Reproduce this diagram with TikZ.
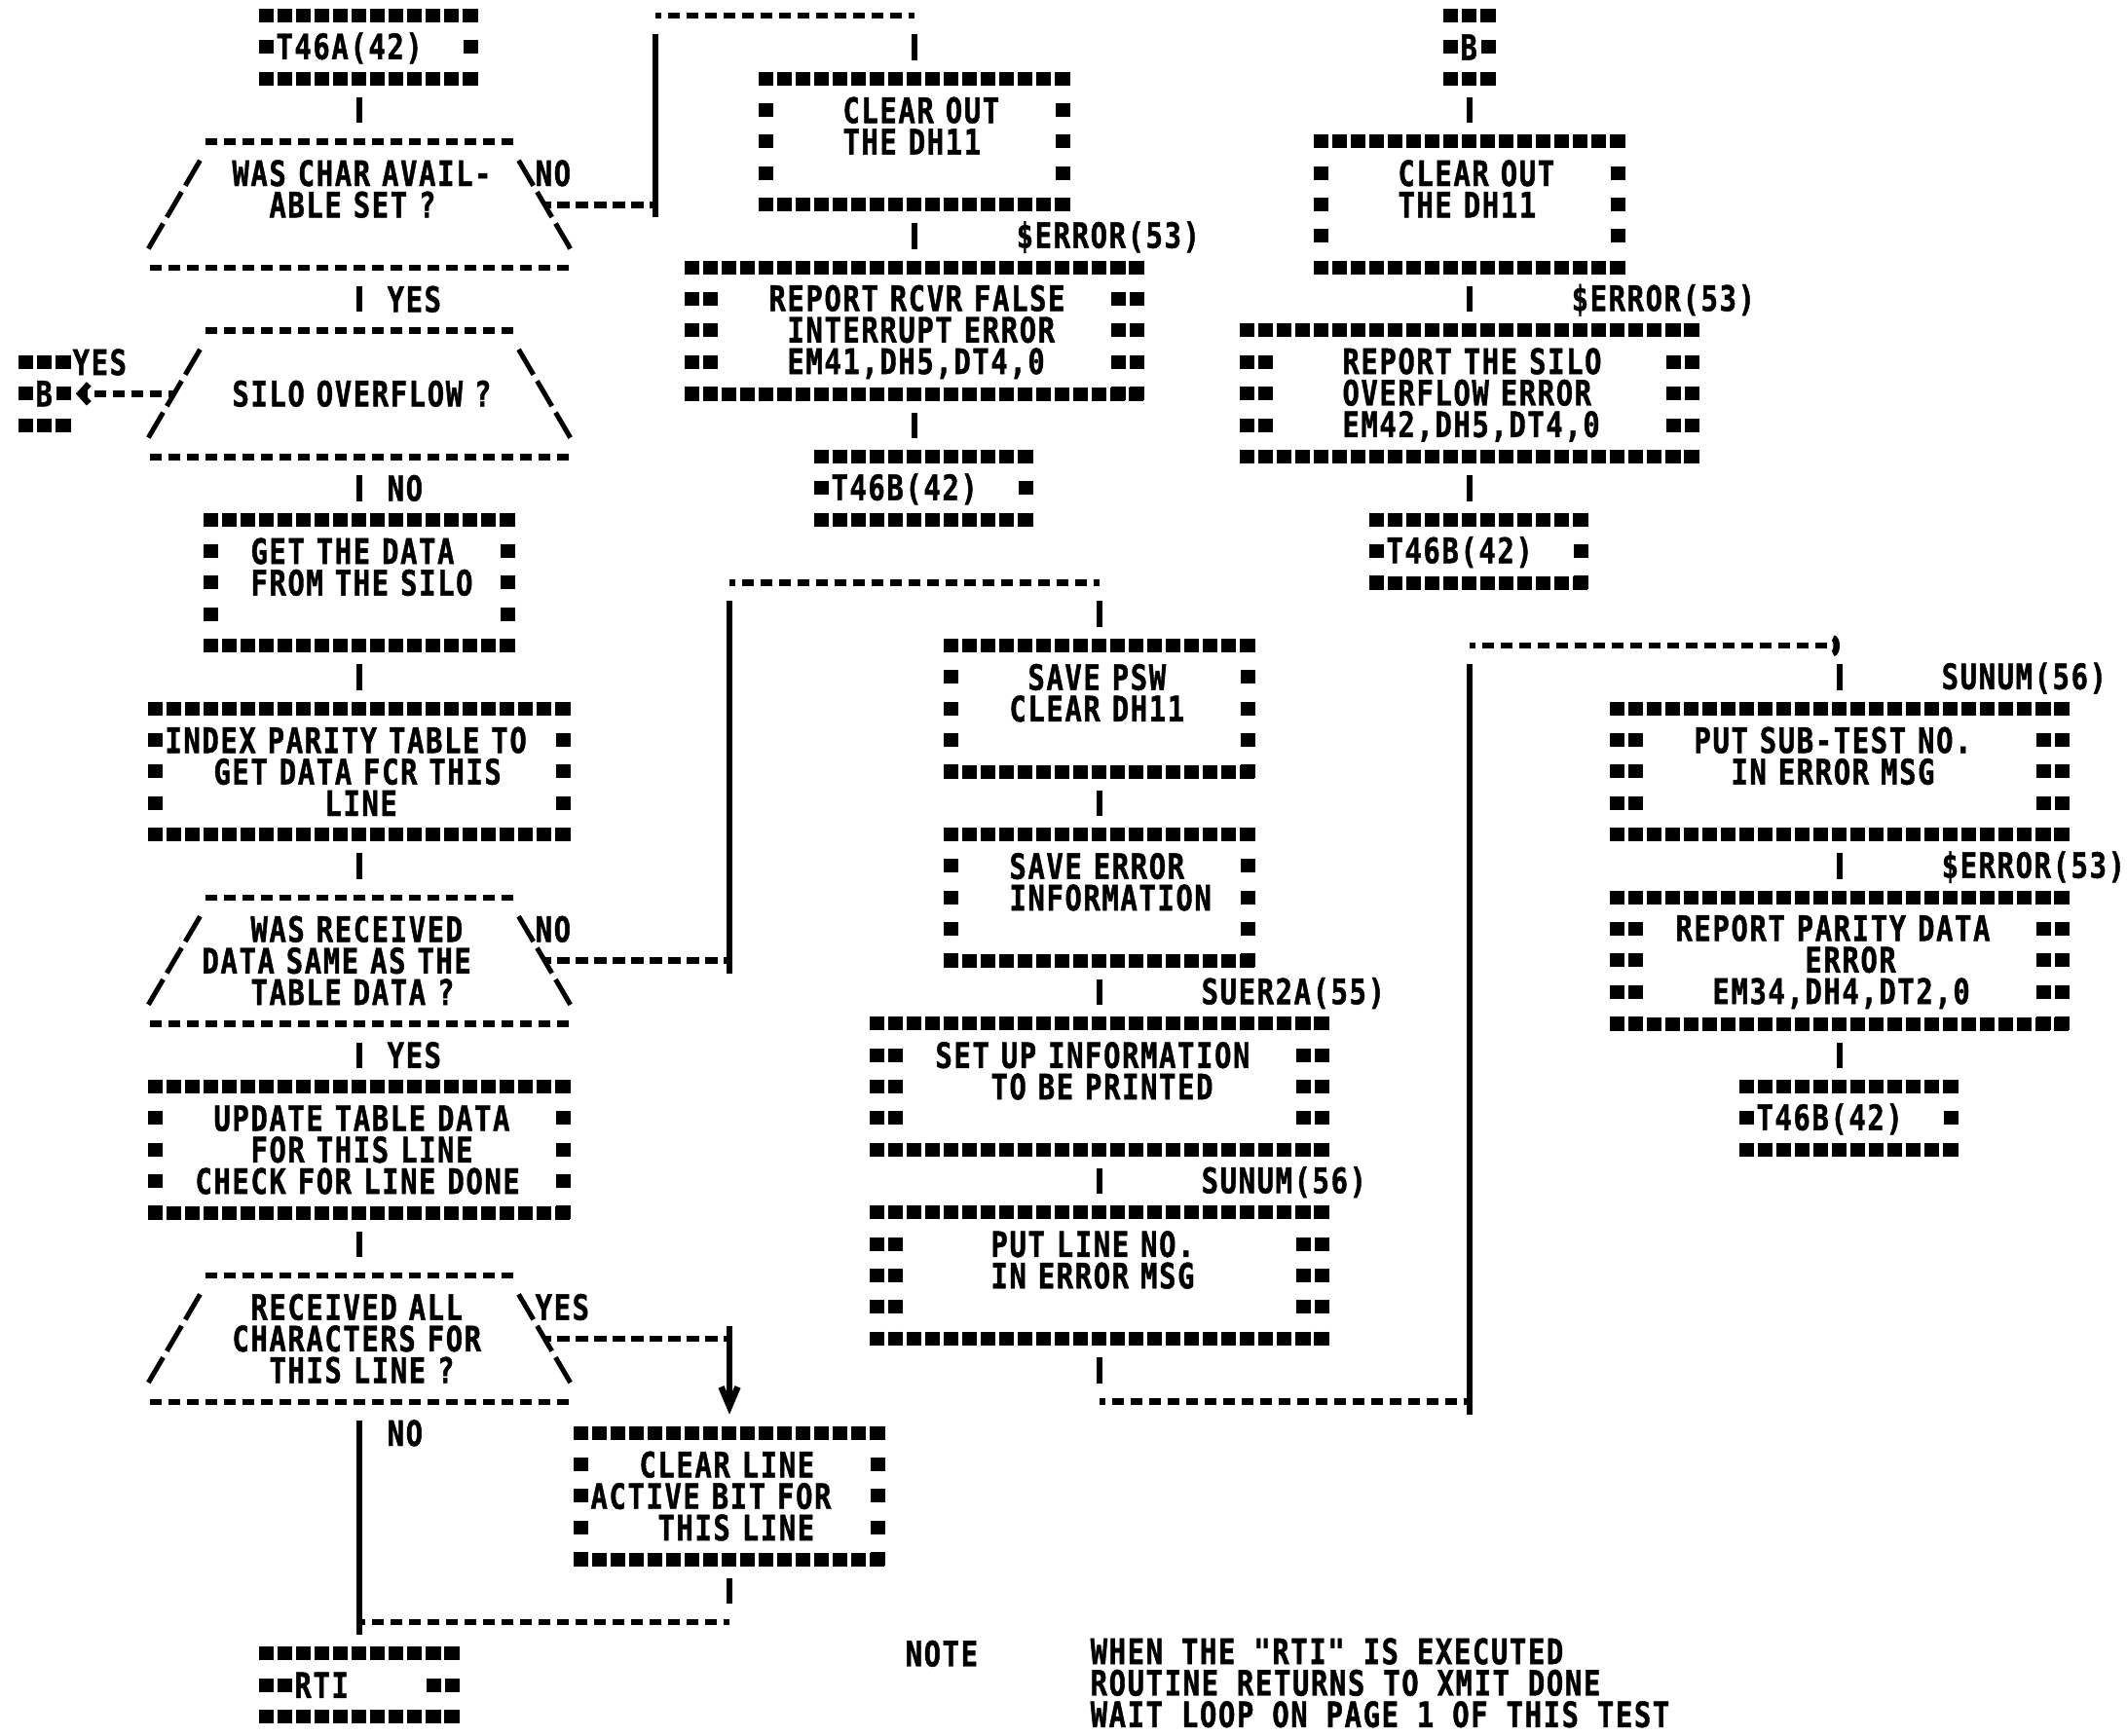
\documentclass[tikz,border=0pt]{standalone}
\usepackage{fontspec}
\usetikzlibrary{arrows.meta}
\newfontfamily\lp{DejaVu Sans Mono}[FakeStretch=0.8,LetterSpace=4.6,FakeBold=1.2]
\newcommand\lpf{\lp\bfseries\fontsize{36pt}{32.35pt}\selectfont\lineskiplimit=-100pt\relax}
\newcommand\rs{\rule[-3.1pt]{0pt}{32.35pt}}
\newlength\chw
\setlength\chw{19pt}
\newcommand\sk[1]{\hspace*{#1\chw}}
\begin{document}
\begin{tikzpicture}[x=19pt,y=-32.35pt,
    txt/.style={inner sep=0pt,align=left,font=\lpf,execute at begin node=\rs,execute at end node=\rs},
    lbl/.style={inner sep=0pt,anchor=west,font=\lpf,execute at begin node=\rs},
    tag/.style={txt,minimum width=209pt,minimum height=64.7pt,text width=190pt},
    conn/.style={txt,minimum width=38pt,minimum height=64.7pt,text width=19pt},
    proc/.style={txt,minimum width=304pt,minimum height=129.4pt,text width=285pt},
    wide/.style={txt,minimum width=418pt,minimum height=129.4pt,text width=399pt},
    err/.style={txt,minimum width=456pt,minimum height=129.4pt,text width=399pt},
    dec/.style={txt,minimum width=456pt,minimum height=129.4pt,text width=323pt},
    hstar/.style={line width=14pt,dash pattern=on 15pt off 4pt},
    vstar/.style={line width=15pt,dash pattern=on 14pt off 18.35pt},
    dashrow/.style={line width=6.5pt,dash pattern=on 12.6pt off 6.4pt},
    hl/.style={dashrow,dash phase=6.3pt},
    vl/.style={line width=6.5pt},
    gapped/.style={shorten <=19pt,shorten >=19pt},
    slash/.style={line width=5pt,dash pattern=on 30pt off 7.52pt,shorten <=22.5pt,shorten >=22.5pt}]
\useasboundingbox (-1.421,-0.5) rectangle (113.526,54.585);

% left column
\node[tag] (t46a) at (18.5,1) {T46A(42)};
\node[dec] (dec1) at (18,6) {\sk1 WAS CHAR AVAIL-\\\sk3 ABLE SET ?\\};
\node[dec] (dec2) at (18,12) {\\\sk1 SILO OVERFLOW ?\\};
\node[conn] (bl) at (1,12) {B};
\node[proc] (get) at (18,18) {\sk1 GET THE DATA\\\sk1 FROM THE SILO\\};
\node[wide] (index) at (18,24) {INDEX PARITY TABLE TO\\\sk2 GET DATA FCR THIS\\\sk8 LINE};
\node[dec] (dec3) at (18,30) {\sk2 WAS RECEIVED\\DATA SAME AS THE\\\sk2 TABLE DATA ?};
\node[wide] (update) at (18,36) {\sk2 UPDATE TABLE DATA\\\sk4 FOR THIS LINE\\\sk1 CHECK FOR LINE DONE};
\node[dec] (dec4) at (18,42) {\sk2 RECEIVED ALL\\\sk1 CHARACTERS FOR\\\sk3 THIS LINE ?};
\node[proc] (clrline) at (38,47) {\sk2 CLEAR LINE\\ACTIVE BIT FOR\\\sk3 THIS LINE};
\node[txt,minimum width=190pt,minimum height=64.7pt,text width=133pt] (rti) at (18,53) {RTI};

% false interrupt
\node[proc] (clr1) at (48,4) {\sk3 CLEAR OUT\\\sk3 THE DH11\\};
\node[err] (rcvr) at (48,10) {\sk2 REPORT RCVR FALSE\\\sk3 INTERRUPT ERROR\\\sk3 EM41,DH5,DT4,0};
\node[tag] (t46b1) at (48.5,15) {T46B(42)};

% silo overflow
\node[conn] (br) at (78,1) {B};
\node[proc] (clr2) at (78,6) {\sk3 CLEAR OUT\\\sk3 THE DH11\\};
\node[err] (silo) at (78,12) {\sk3 REPORT THE SILO\\\sk3 OVERFLOW ERROR\\\sk3 EM42,DH5,DT4,0};
\node[tag] (t46b2) at (78.5,17) {T46B(42)};

% parity error
\node[proc] (psw) at (58,22) {\sk3 SAVE PSW\\\sk2 CLEAR DH11\\};
\node[proc] (saverr) at (58,28) {\sk2 SAVE ERROR\\\sk2 INFORMATION\\};
\node[err] (setup) at (58,34) {\sk1 SET UP INFORMATION\\\sk4 TO BE PRINTED\\};
\node[err] (putline) at (58,40) {\sk4 PUT LINE NO.\\\sk4 IN ERROR MSG\\};
\node[err] (subtest) at (98,24) {\sk2 PUT SUB-TEST NO.\\\sk4 IN ERROR MSG\\};
\node[err] (parity) at (98,30) {\sk1 REPORT PARITY DATA\\\sk8 ERROR\\\sk3 EM34,DH4,DT2,0};
\node[tag] (t46b3) at (98.5,35) {T46B(42)};

% asterisk borders
\foreach \b in {t46a,bl,get,index,update,clrline,rti,clr1,rcvr,t46b1,br,clr2,silo,t46b2,psw,saverr,setup,putline,subtest,parity,t46b3}{
    \draw[hstar] ([xshift=-7.5pt]\b.north west) -- ([xshift=7.5pt]\b.north east);
    \draw[hstar] ([xshift=-7.5pt]\b.south west) -- ([xshift=7.5pt]\b.south east);
    \draw[vstar] ([yshift=7pt]\b.north west) -- ([yshift=-7pt]\b.south west);
    \draw[vstar] ([yshift=7pt]\b.north east) -- ([yshift=-7pt]\b.south east);
}
\foreach \b in {rti,rcvr,silo,setup,putline,subtest,parity}{
    \draw[vstar] ([xshift=19pt,yshift=7pt]\b.north west) -- ([xshift=19pt,yshift=-7pt]\b.south west);
    \draw[vstar] ([xshift=-19pt,yshift=7pt]\b.north east) -- ([xshift=-19pt,yshift=-7pt]\b.south east);
}
\foreach \d in {dec1,dec2,dec3,dec4}{
    \draw[dashrow] ([xshift=69.7pt]\d.north west) -- ([xshift=-69.7pt]\d.north east);
    \draw[dashrow] ([xshift=12.7pt]\d.south west) -- ([xshift=-12.7pt]\d.south east);
    \draw[slash] ([xshift=76pt]\d.north west) -- (\d.south west);
    \draw[slash] ([xshift=-76pt]\d.north east) -- (\d.south east);
}

% main flow
\draw[vl,gapped] (dec1.north |- t46a.south) -- (dec1.north);
\draw[vl,gapped] (dec1.south) -- (dec2.north);
\draw[vl,gapped] (dec2.south) -- (get.north);
\draw[vl,gapped] (get.south) -- (index.north);
\draw[vl,gapped] (index.south) -- (dec3.north);
\draw[vl,gapped] (dec3.south) -- (update.north);
\draw[vl,gapped] (update.south) -- (dec4.north);
\draw[vl,gapped] (dec4.south) -- (rti.north);
\draw[hl,-{Straight Barb[length=9pt,width=20pt]},shorten >=12.7pt] ([xshift=38pt]dec2.west) -- (bl.east);

% char avail not set
\coordinate (n1a) at (34,6);
\coordinate (n1b) at (34,0);
\coordinate (n1c) at (48,0);
\draw[hl] ([xshift=-38pt]dec1.east) -- (n1a);
\draw[vl,shorten <=-13pt,shorten >=19pt] (n1a) -- (n1b);
\draw[hl] (n1b) -- (n1c);
\draw[vl,gapped] (n1c) -- (clr1.north);
\draw[vl,gapped] (clr1.south) -- (rcvr.north);
\draw[vl,gapped] (rcvr.south) -- (rcvr.south |- t46b1.north);

\draw[vl,gapped] (br.south) -- (clr2.north);
\draw[vl,gapped] (clr2.south) -- (silo.north);
\draw[vl,gapped] (silo.south) -- (silo.south |- t46b2.north);

% data not same
\coordinate (n3a) at (38,30);
\coordinate (n3b) at (38,18);
\coordinate (n3c) at (58,18);
\draw[hl] ([xshift=-38pt]dec3.east) -- (n3a);
\draw[vl,shorten <=-13pt,shorten >=19pt] (n3a) -- (n3b);
\draw[hl] (n3b) -- (n3c);
\draw[vl,gapped] (n3c) -- (psw.north);
\draw[vl,gapped] (psw.south) -- (saverr.north);
\draw[vl,gapped] (saverr.south) -- (setup.north);
\draw[vl,gapped] (setup.south) -- (putline.north);
\coordinate (p1) at (58,44);
\coordinate (p2) at (78,44);
\coordinate (p3) at (78,20);
\coordinate (p4) at (98,20);
\draw[vl,gapped] (putline.south) -- (p1);
\draw[hl] (p1) -- (p2);
\draw[vl,shorten <=-13pt,shorten >=19pt] (p2) -- (p3);
\draw[hl,-{Arc Barb[length=7pt,width=22pt]}] (p3) -- (p4);
\draw[vl,gapped] (p4) -- (subtest.north);
\draw[vl,gapped] (subtest.south) -- (parity.north);
\draw[vl,gapped] (parity.south) -- (parity.south |- t46b3.north);

% line done
\coordinate (y1) at (38,42);
\coordinate (j1) at (38,51);
\draw[hl] ([xshift=-38pt]dec4.east) -- (y1);
\draw[vl,shorten <=-13pt,shorten >=19pt,-{Straight Barb[length=20pt,width=17pt]}] (y1) -- (clrline.north);
\draw[vl,gapped] (clrline.south) -- (j1);
\draw[hl] (j1) -- (dec4.south |- j1);

% labels
\node[lbl] (yes1) at (19.5,9) {YES};
\node[lbl] (no1) at (27.5,5) {NO};
\node[lbl] (yes2) at (2.5,11) {YES};
\node[lbl] (no2) at (19.5,15) {NO};
\node[lbl] (no3) at (27.5,29) {NO};
\node[lbl] (yes3) at (19.5,33) {YES};
\node[lbl] (yes4) at (27.5,41) {YES};
\node[lbl] (no4) at (19.5,45) {NO};
\node[lbl] (err1) at (53.5,7) {\$ERROR(53)};
\node[lbl] (err2) at (83.5,9) {\$ERROR(53)};
\node[lbl] (err3) at (103.5,27) {\$ERROR(53)};
\node[lbl] (suer) at (63.5,31) {SUER2A(55)};
\node[lbl] (sunum1) at (63.5,37) {SUNUM(56)};
\node[lbl] (sunum2) at (103.5,21) {SUNUM(56)};
\node[lbl] (note) at (47.5,52) {NOTE};
\node[txt,anchor=north west] (notetext) at (57.5,51.5) {WHEN THE "RTI" IS EXECUTED\\ROUTINE RETURNS TO XMIT DONE\\WAIT LOOP ON PAGE 1 OF THIS TEST};
\end{tikzpicture}
\end{document}
